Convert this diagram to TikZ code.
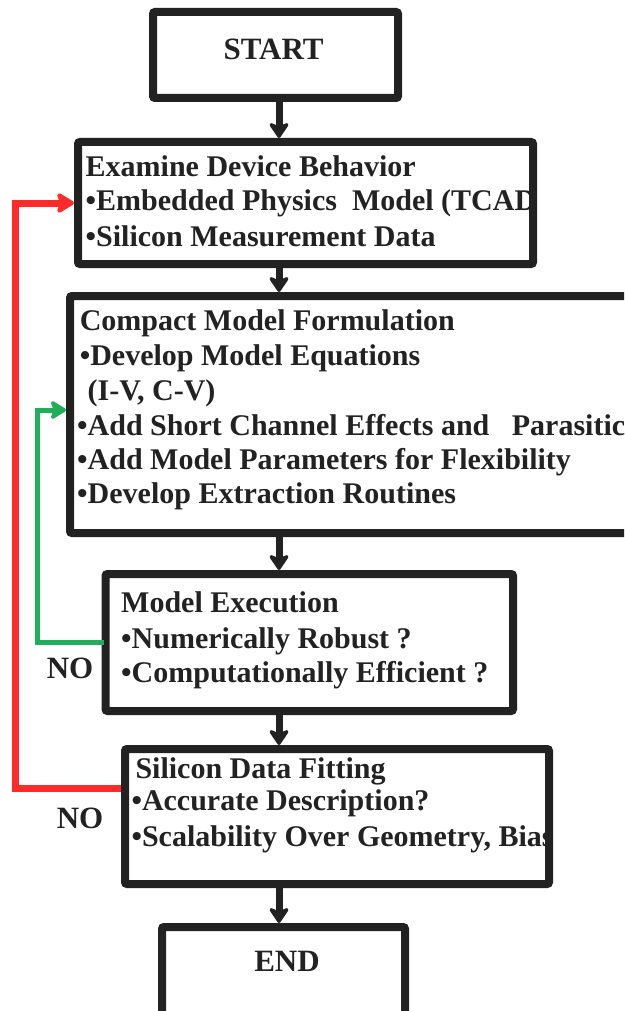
\documentclass[tikz,border=0pt]{standalone}
\usepackage{fontspec}
\setmainfont{Liberation Serif}
\usetikzlibrary{arrows.meta,calc}
\definecolor{ink}{HTML}{222222}
\definecolor{redc}{HTML}{FF2B2B}
\definecolor{greenc}{HTML}{20AE5A}
\tikzset{
  box/.style={draw=ink, line width=8pt, rounded corners=2pt, fill=white, outer sep=0pt, inner sep=0pt},
  txt/.style={anchor=base west, inner sep=0pt, font=\fontsize{30}{36}\selectfont\bfseries, text=ink},
  big/.style={anchor=base, inner sep=0pt, font=\fontsize{31}{37}\selectfont\bfseries, text=ink},
  arr/.style={draw=ink, line width=7pt, shorten >=4pt, -{Stealth[length=18pt,width=24pt,inset=5pt,round]}},
  redarr/.style={draw=redc, line width=7pt, shorten <=4pt, shorten >=4pt, -{Stealth[length=20pt,width=24pt,inset=4pt,round]}},
  greenarr/.style={draw=greenc, line width=5pt, shorten <=2pt, shorten >=4pt, -{Stealth[length=18pt,width=22pt,inset=4pt,round]}}
}
\begin{document}
\begin{tikzpicture}[x=1pt,y=-1pt]
\useasboundingbox (0,0) rectangle (624,1011);
\clip (0,0) rectangle (624,1011);
\fill[white] (0,0) rectangle (624,1011);
% boxes
\node[box, minimum width=245pt, minimum height=86pt] (start) at (275.5,55) {};
\node[box, minimum width=455pt, minimum height=122pt] (examine) at (305.5,203) {};
\node[box, minimum width=630pt, minimum height=237pt] (compact) at (385,414.5) {};
\node[box, minimum width=407.5pt, minimum height=137pt] (exec) at (309.25,642.5) {};
\node[box, minimum width=424pt, minimum height=135pt] (fit) at (337,816.5) {};
\node[box, minimum width=243pt, minimum height=113pt] (end) at (283.5,983.5) {};
% texts
\node[big] (tstart) at (273.5,60) {START};
\node[txt] (e1) at (85.5,176) {Examine Device Behavior};
\node[txt] (e2) at (85.5,211) {•Embedded Physics\ \ Model (TCAD};
\node[txt] (e3) at (85.5,246) {•Silicon Measurement Data};
\node[txt] (c1) at (79.6,330) {Compact Model Formulation};
\node[txt] (c2) at (79.6,365) {•Develop Model Equations};
\node[txt] (c3) at (87.5,400) {(I-V, C-V)};
\node[txt] (c4) at (77,435) {•Add Short Channel Effects and\ \ \ Parasitics};
\node[txt] (c5) at (77,469) {•Add Model Parameters for Flexibility};
\node[txt] (c6) at (77,503) {•Develop Extraction Routines};
\node[txt] (m1) at (121,612) {Model Execution};
\node[txt] (m2) at (121,648) {•Numerically Robust ?};
\node[txt] (m3) at (121,682) {•Computationally Efficient ?};
\node[txt] (f1) at (135.3,778) {Silicon Data Fitting};
\node[txt] (f2) at (131.3,810) {•Accurate Description?};
\node[txt] (f3) at (131.3,846) {•Scalability Over Geometry, Bias};
\node[big] (tend) at (287,971) {END};
\node[big] (no1) at (70,678) {NO};
\node[big] (no2) at (80,828) {NO};
% main flow
\coordinate (ax) at (279,0);
\draw[arr] (start.south -| ax) -- (examine.north -| ax);
\draw[arr] (examine.south -| ax) -- (compact.north -| ax);
\draw[arr] (compact.south -| ax) -- (exec.north -| ax);
\draw[arr] (exec.south -| ax) -- (fit.north -| ax);
\draw[arr] (fit.south -| ax) -- (end.north -| ax);
% feedback loops
\coordinate (rx) at (15,0);
\coordinate (gx) at (37.5,0);
\coordinate (rs) at ($(fit.north west)!0.296!(fit.south west)$);
\coordinate (gt) at ($(compact.north west)!0.481!(compact.south west)$);
\draw[redarr] (rs) -- (rs -| rx) |- (examine.west);
\draw[greenarr] (exec.west) -- (exec.west -| gx) |- (gt);
\end{tikzpicture}
\end{document}
